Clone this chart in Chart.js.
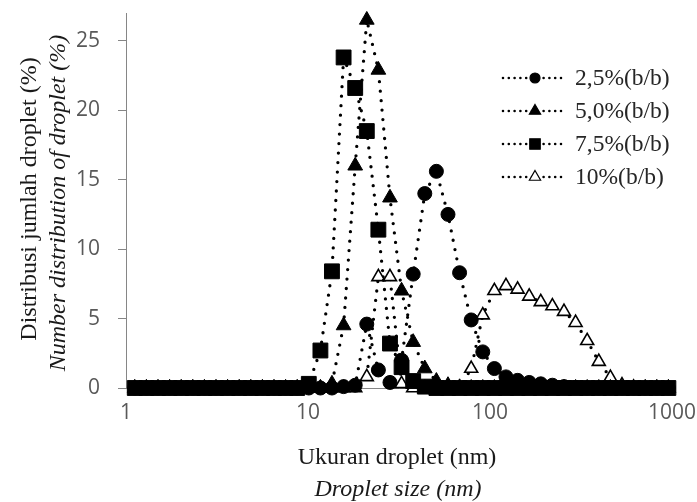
<!DOCTYPE html>
<html>
<head>
<meta charset="utf-8">
<script src="https://cdn.jsdelivr.net/npm/chart.js@4/dist/chart.umd.min.js"></script>
<style>
  body { margin: 0; background: #fff; }
  #wrap { position: relative; width: 697px; height: 502px; overflow: hidden; }
  #chart { position: absolute; left: 0; top: 0; }
  .t { position: absolute; white-space: nowrap; font-family: "Liberation Serif", "Times New Roman", serif; color: #1a1a1a; line-height: 1; }
  .it { font-style: italic; }
  .ytitle { transform: translate(-50%, -50%) rotate(-90deg); font-size: 24px; }
  .xtitle { transform: translate(-50%, -50%); font-size: 24px; }
  .leg { font-size: 23.5px; color: #262626; transform: translateY(-50%); }
</style>
</head>
<body>
<div id="wrap">
  <canvas id="chart" width="697" height="502"></canvas>
  <div class="t ytitle" style="left:28px;top:199px">Distribusi jumlah droplet (%)</div>
  <div class="t ytitle it" style="left:57px;top:203px">Number distribution of droplet (%)</div>
  <div class="t xtitle" style="left:397px;top:456px">Ukuran droplet (nm)</div>
  <div class="t xtitle it" style="left:398px;top:488px">Droplet size (nm)</div>
  <div id="legend"></div>
</div>
<script>
// droplet size bins (nm)
const sizes = [1.117, 1.294, 1.499, 1.736, 2.01, 2.328, 2.696, 3.122, 3.615, 4.187, 4.849, 5.615,
  6.503, 7.531, 8.721, 10.1, 11.7, 13.54, 15.69, 18.17, 21.04, 24.36, 28.21, 32.67, 37.84, 43.82,
  50.75, 58.77, 68.06, 78.82, 91.28, 105.7, 122.4, 141.8, 164.2, 190.1, 220.2, 255, 295.3, 342,
  396.1, 458.7, 531.2, 615.1, 712.4, 825, 955.4];

// number distribution (%) per bin
const conc25 = [0, 0, 0, 0, 0, 0, 0, 0, 0, 0, 0, 0, 0, 0, 0, 0, 0, 0, 0.1, 0.2, 4.6, 1.3, 0.4, 2.0,
  8.2, 14.0, 15.6, 12.5, 8.3, 4.9, 2.6, 1.4, 0.8, 0.55, 0.4, 0.3, 0.2, 0.1, 0.05, 0, 0, 0, 0, 0, 0, 0, 0];
const conc50 = [0, 0, 0, 0, 0, 0, 0, 0, 0, 0, 0, 0, 0, 0, 0, 0, 0, 0.3, 4.5, 16.0, 26.5, 22.9, 13.7, 7.0,
  3.3, 1.4, 0.5, 0.2, 0.05, 0, 0, 0, 0, 0, 0, 0, 0, 0, 0, 0, 0, 0, 0, 0, 0, 0, 0];
const conc75 = [0, 0, 0, 0, 0, 0, 0, 0, 0, 0, 0, 0, 0, 0, 0, 0.3, 2.7, 8.4, 23.8, 21.6, 18.5, 11.4, 3.2, 1.5,
  0.5, 0.1, 0, 0, 0, 0, 0, 0, 0, 0, 0, 0, 0, 0, 0, 0, 0, 0, 0, 0, 0, 0, 0];
const conc10 = [0, 0, 0, 0, 0, 0, 0, 0, 0, 0, 0, 0, 0, 0, 0, 0, 0, 0, 0, 0, 0.8, 8.0, 8.0, 0.3,
  0, 0, 0, 0, 0, 1.4, 5.25, 7.0, 7.35, 7.1, 6.6, 6.2, 5.9, 5.5, 4.7, 3.4, 1.9, 0.75, 0.2, 0.05, 0, 0, 0];

const seriesLabels = ["2,5%(b/b)", "5,0%(b/b)", "7,5%(b/b)", "10%(b/b)"];
const xTicks = [1, 10, 100, 1000];
const yTicks = [0, 5, 10, 15, 20, 25];

const black = "#000";
const axisGray = "#868686";
const tickText = "#595959";

const styles = [
  { pointStyle: "circle", radius: 7, fill: black, legR: 5 },
  { pointStyle: "triangle", radius: 8.5, fill: black, legR: 6.5 },
  { pointStyle: "rect", radius: 10.5, fill: black, legR: 7 },
  { pointStyle: "triangle", radius: 7.5, fill: "#fff", legR: 6.5 },
];

const series = [conc25, conc50, conc75, conc10];
const datasets = series.map((vals, i) => ({
  label: seriesLabels[i],
  data: sizes.map((s, k) => ({ x: s, y: vals[k] })),
  borderColor: black,
  borderWidth: 3.3,
  borderDash: [0, 9.5],
  borderCapStyle: "round",
  tension: 0,
  fill: false,
  clip: false,
  pointStyle: styles[i].pointStyle,
  pointRadius: styles[i].radius,
  pointBackgroundColor: styles[i].fill,
  pointBorderColor: black,
  pointBorderWidth: i === 3 ? 1.6 : 1,
}));

function drawMarker(ctx, style, x, y, r, fill) {
  ctx.beginPath();
  if (style === "circle") ctx.arc(x, y, r, 0, Math.PI * 2);
  else if (style === "rect") ctx.rect(x - r * 0.75, y - r * 0.75, r * 1.5, r * 1.5);
  else {
    ctx.moveTo(x, y - r);
    ctx.lineTo(x + r * 0.866, y + r / 2);
    ctx.lineTo(x - r * 0.866, y + r / 2);
    ctx.closePath();
  }
  ctx.fillStyle = fill;
  ctx.fill();
  ctx.lineWidth = 1.2;
  ctx.strokeStyle = black;
  ctx.stroke();
}

// Excel-like legend: dotted sample + marker, labels as html
const legendY = [78, 111, 144, 177];
const sampleLegend = {
  id: "sampleLegend",
  afterDraw(chart) {
    const ctx = chart.ctx;
    ctx.save();
    legendY.forEach((y, i) => {
      ctx.beginPath();
      ctx.setLineDash([0, 5.8]);
      ctx.lineCap = "round";
      ctx.lineWidth = 2.6;
      ctx.strokeStyle = black;
      ctx.moveTo(503, y);
      ctx.lineTo(565, y);
      ctx.stroke();
      ctx.setLineDash([]);
      drawMarker(ctx, styles[i].pointStyle, 535, y, styles[i].legR, styles[i].fill);
    });
    ctx.restore();
  },
};

document.getElementById("legend").innerHTML = seriesLabels
  .map((l, i) => `<div class="t leg" style="left:575px;top:${legendY[i]}px">${l}</div>`)
  .join("");

new Chart(document.getElementById("chart").getContext("2d"), {
  type: "line",
  data: { datasets },
  options: {
    responsive: false,
    animation: false,
    layout: { padding: { left: 0, right: 25, top: 13, bottom: 0 } },
    plugins: { legend: { display: false }, tooltip: { enabled: false } },
    scales: {
      x: {
        type: "logarithmic",
        min: 1,
        max: 1000,
        afterBuildTicks: (s) => { s.ticks = xTicks.map((v) => ({ value: v })); },
        afterFit: (s) => { s.height = 114; s.paddingLeft = 0; s.paddingRight = 0; },
        grid: { display: false },
        border: { display: true, color: axisGray, width: 1 },
        ticks: { color: tickText, font: { family: "Open Sans", size: 21 }, padding: 4, maxRotation: 0, autoSkip: false, callback: (v) => String(v) },
      },
      y: {
        type: "linear",
        min: 0,
        max: 27,
        afterBuildTicks: (s) => { s.ticks = yTicks.map((v) => ({ value: v })); },
        afterFit: (s) => { s.width = 126; s.paddingTop = 0; s.paddingBottom = 0; },
        grid: { drawOnChartArea: false, color: axisGray, tickLength: 8 },
        border: { display: true, color: axisGray, width: 1 },
        ticks: { color: tickText, font: { family: "Open Sans", size: 21 }, padding: 18 },
      },
    },
  },
  plugins: [sampleLegend],
});
</script>
</body>
</html>
